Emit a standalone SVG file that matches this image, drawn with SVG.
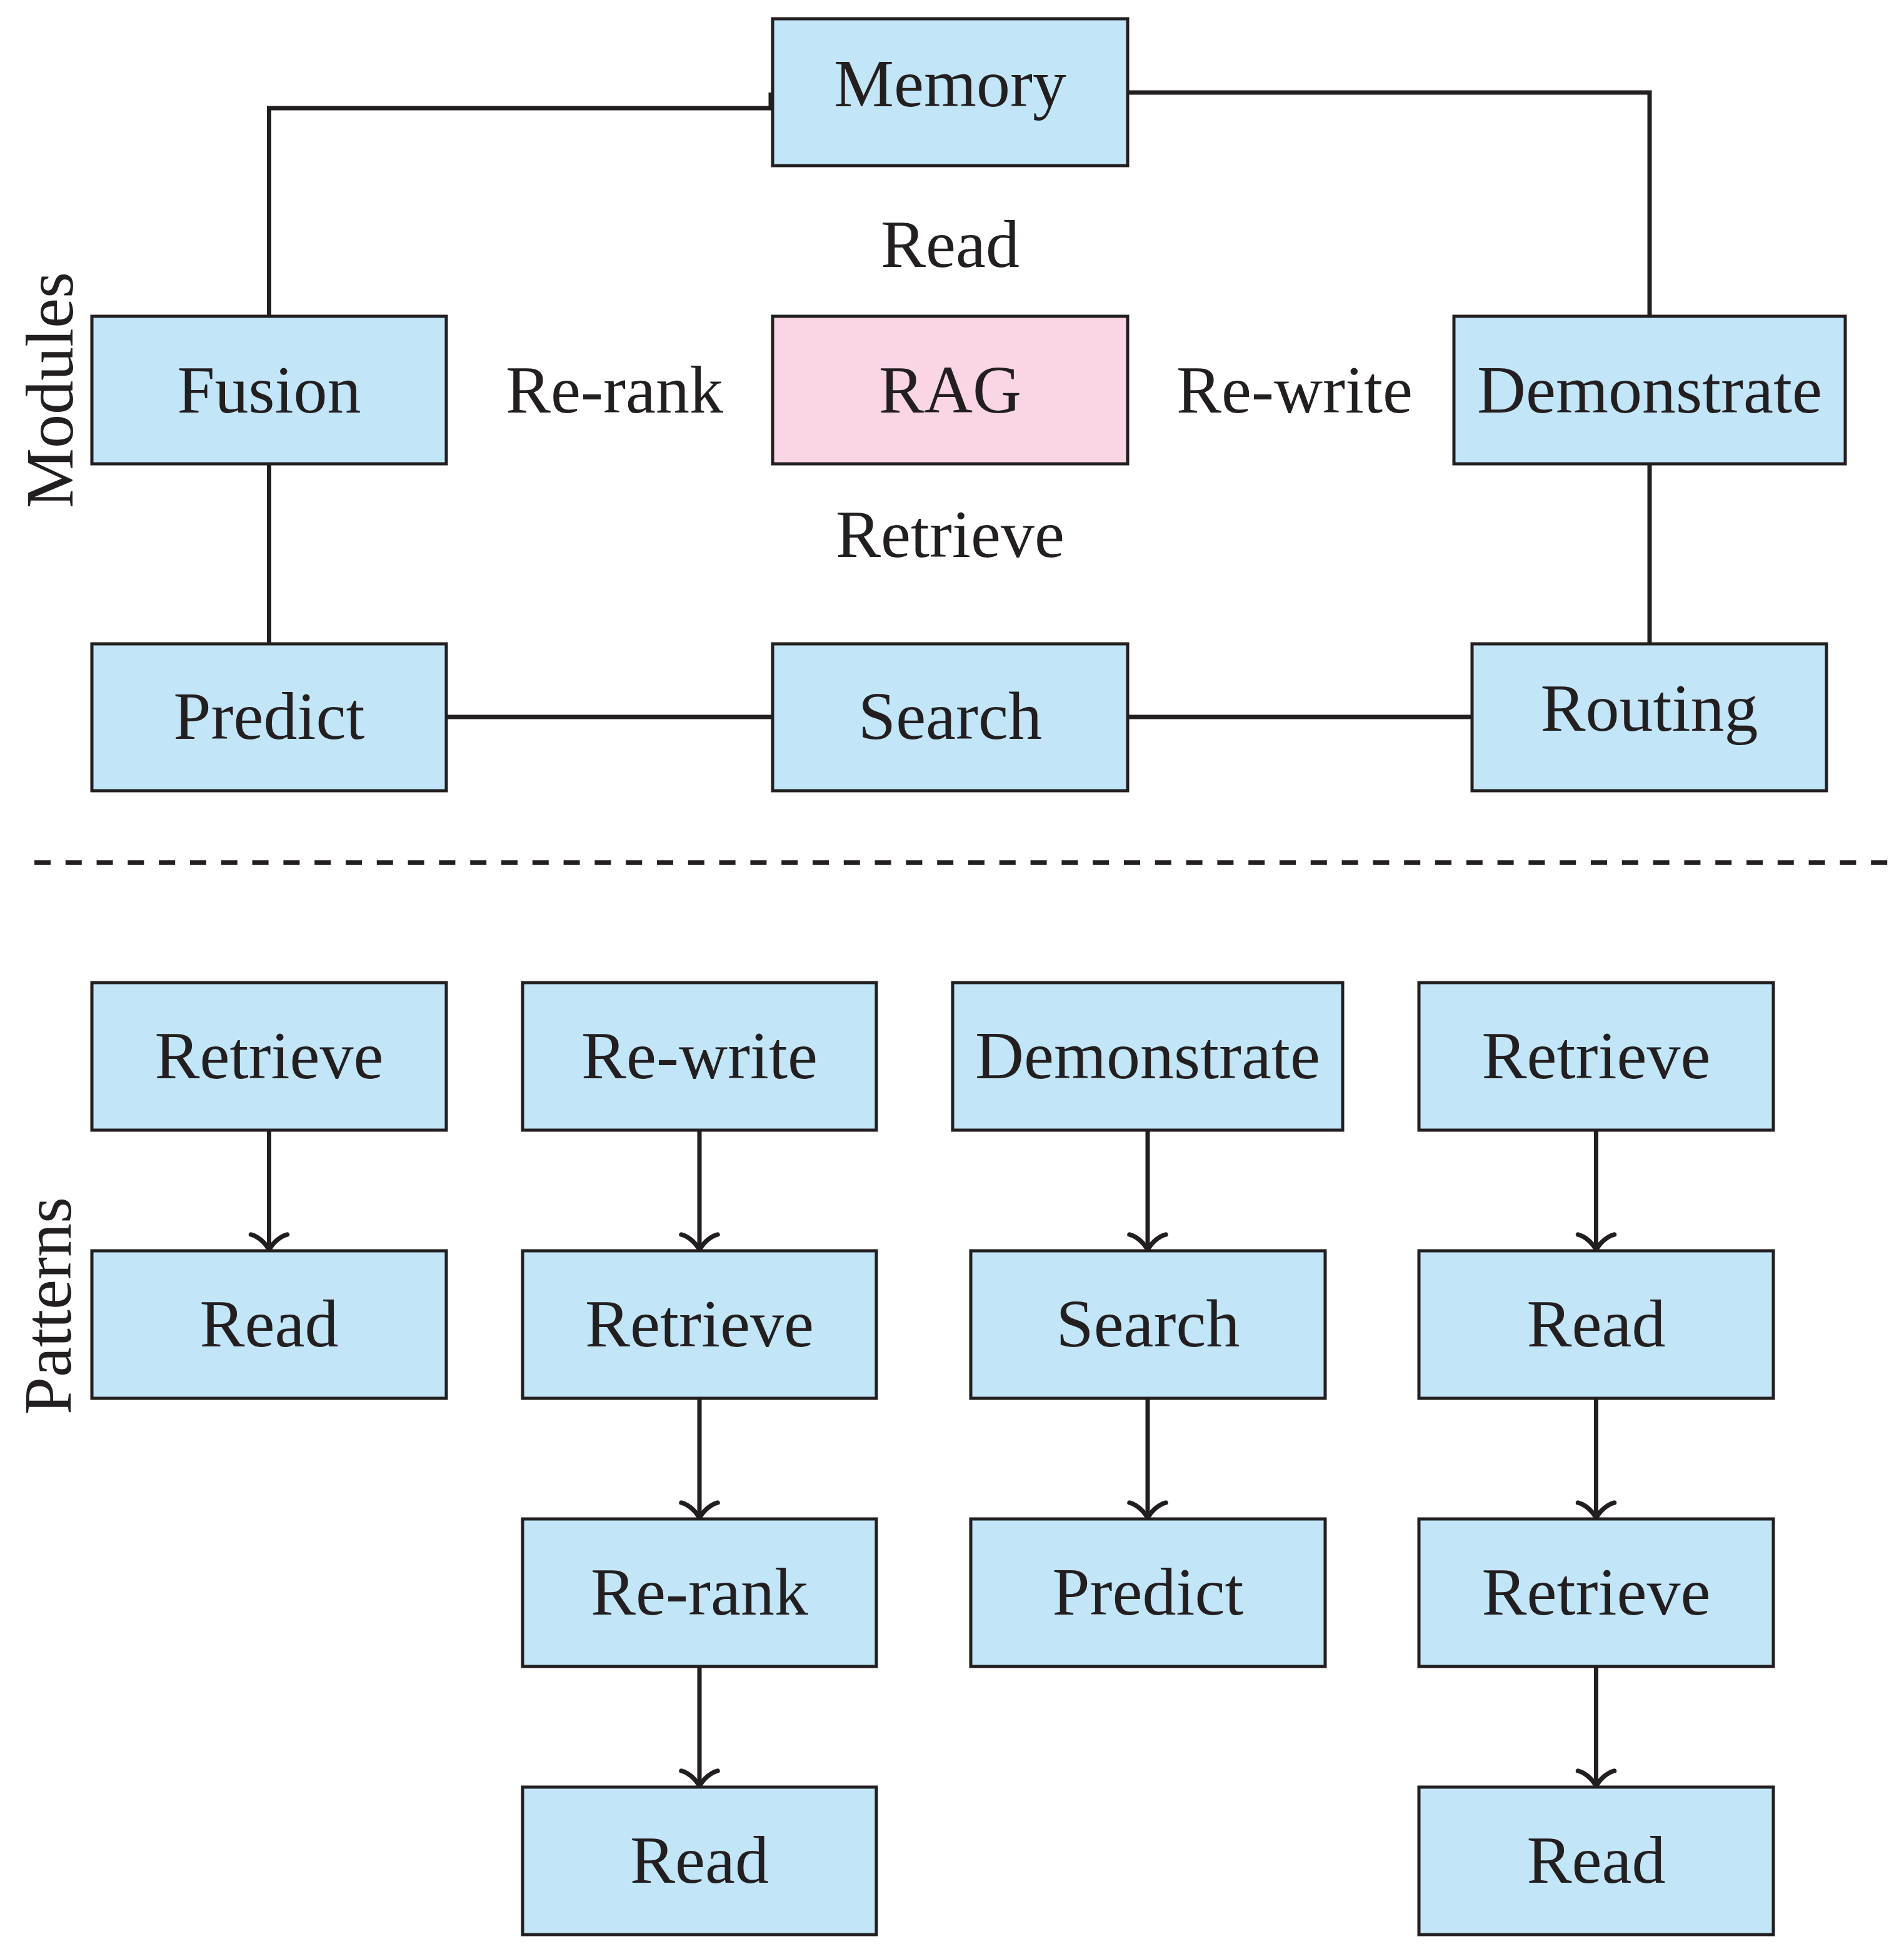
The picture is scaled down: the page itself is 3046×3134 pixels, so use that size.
<svg xmlns="http://www.w3.org/2000/svg" width="3046" height="3134" viewBox="0 0 3046 3134">
<style>
.box{fill:#C2E6F8;stroke:#231F20;stroke-width:5}
.rag{fill:#F9D5E5;stroke:#231F20;stroke-width:5}
.t{font-family:"Liberation Serif","Times New Roman",serif;font-size:108px;fill:#231F20;text-anchor:middle}
.ln{fill:none;stroke:#231F20;stroke-width:7;stroke-linejoin:miter}
.ar{fill:none;stroke:#231F20;stroke-width:7;marker-end:url(#arr)}
</style>
<defs>
<marker id="arr" markerUnits="userSpaceOnUse" markerWidth="80" markerHeight="80" viewBox="-40 -40 80 80" refX="0" refY="0" orient="auto" overflow="visible">
<path d="M-25,-29 C-21,-14 -7,-3 0,0 C-7,3 -21,14 -25,29" fill="none" stroke="#231F20" stroke-width="7.5" stroke-linecap="round" stroke-linejoin="round"/>
</marker>
</defs>
<rect width="3046" height="3134" fill="#FFFFFF"/>
<g id="connectors">
<path class="ln" d="M430.5,506 V173 H1233 V148"/>
<path class="ln" d="M1804,148 H2639 V506"/>
<path class="ln" d="M2639,742 V1030"/>
<path class="ln" d="M430.5,742 V1030"/>
<path class="ln" d="M714,1147 H1236"/>
<path class="ln" d="M1804,1147 H2355"/>
<path class="ar" d="M430.5,1808 V2000"/>
<path class="ar" d="M1119,1808 V2000"/>
<path class="ar" d="M1119,2237 V2429"/>
<path class="ar" d="M1119,2666 V2858"/>
<path class="ar" d="M1836,1808 V2000"/>
<path class="ar" d="M1836,2237 V2429"/>
<path class="ar" d="M2553.5,1808 V2000"/>
<path class="ar" d="M2553.5,2237 V2429"/>
<path class="ar" d="M2553.5,2666 V2858"/>
</g>
<path id="separator" d="M55,1380 H3020" fill="none" stroke="#231F20" stroke-width="7.5" stroke-dasharray="26 23.8"/>
<g id="labels">
<text class="t" x="1520" y="427">Read</text>
<text class="t" x="983" y="660">Re-rank</text>
<text class="t" x="2071" y="660">Re-write</text>
<text class="t" x="1520" y="891">Retrieve</text>
<text class="t" transform="translate(116,624) rotate(-90)">Modules</text>
<text class="t" transform="translate(113,2089) rotate(-90)">Patterns</text>
</g>
<g id="memory"><rect class="box" x="1236" y="30" width="568" height="235"/><text class="t" x="1520" y="170">Memory</text></g>
<g id="fusion"><rect class="box" x="147" y="506" width="567" height="236"/><text class="t" x="430.5" y="660">Fusion</text></g>
<g id="rag"><rect class="rag" x="1236" y="506" width="568" height="236"/><text class="t" x="1520" y="660">RAG</text></g>
<g id="demonstrate"><rect class="box" x="2326" y="506" width="626" height="236"/><text class="t" x="2639" y="660">Demonstrate</text></g>
<g id="predict"><rect class="box" x="147" y="1030" width="567" height="235"/><text class="t" x="430.5" y="1182">Predict</text></g>
<g id="search"><rect class="box" x="1236" y="1030" width="568" height="235"/><text class="t" x="1520" y="1182">Search</text></g>
<g id="routing"><rect class="box" x="2355" y="1030" width="567" height="235"/><text class="t" x="2638.5" y="1169">Routing</text></g>
<g id="p1-retrieve"><rect class="box" x="147" y="1572" width="567" height="236"/><text class="t" x="430.5" y="1725">Retrieve</text></g>
<g id="p1-read"><rect class="box" x="147" y="2001" width="567" height="236"/><text class="t" x="430.5" y="2154">Read</text></g>
<g id="p2-rewrite"><rect class="box" x="836" y="1572" width="566" height="236"/><text class="t" x="1119" y="1725">Re-write</text></g>
<g id="p2-retrieve"><rect class="box" x="836" y="2001" width="566" height="236"/><text class="t" x="1119" y="2154">Retrieve</text></g>
<g id="p2-rerank"><rect class="box" x="836" y="2430" width="566" height="236"/><text class="t" x="1119" y="2583">Re-rank</text></g>
<g id="p2-read"><rect class="box" x="836" y="2859" width="566" height="236"/><text class="t" x="1119" y="3012">Read</text></g>
<g id="p3-demonstrate"><rect class="box" x="1524" y="1572" width="624" height="236"/><text class="t" x="1836" y="1725">Demonstrate</text></g>
<g id="p3-search"><rect class="box" x="1553" y="2001" width="567" height="236"/><text class="t" x="1836.5" y="2154">Search</text></g>
<g id="p3-predict"><rect class="box" x="1553" y="2430" width="567" height="236"/><text class="t" x="1836.5" y="2583">Predict</text></g>
<g id="p4-retrieve1"><rect class="box" x="2270" y="1572" width="567" height="236"/><text class="t" x="2553.5" y="1725">Retrieve</text></g>
<g id="p4-read1"><rect class="box" x="2270" y="2001" width="567" height="236"/><text class="t" x="2553.5" y="2154">Read</text></g>
<g id="p4-retrieve2"><rect class="box" x="2270" y="2430" width="567" height="236"/><text class="t" x="2553.5" y="2583">Retrieve</text></g>
<g id="p4-read2"><rect class="box" x="2270" y="2859" width="567" height="236"/><text class="t" x="2553.5" y="3012">Read</text></g>
</svg>
